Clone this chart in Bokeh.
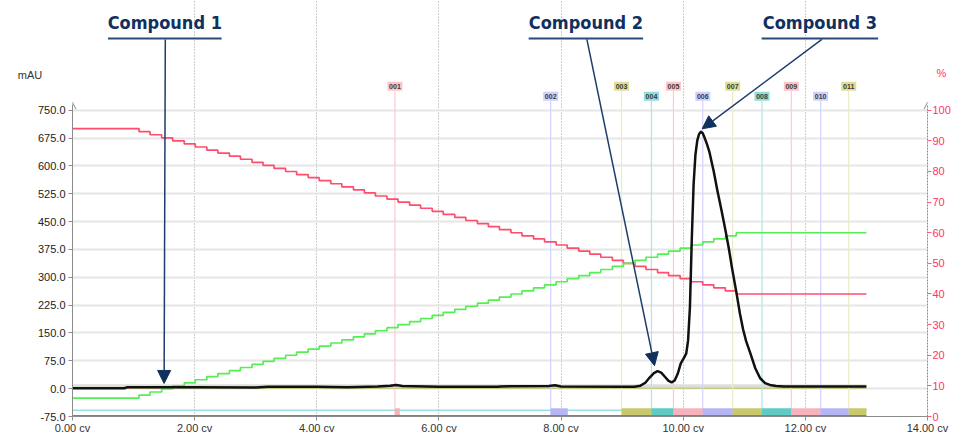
from bokeh.plotting import figure
from bokeh.models import (Range1d, LinearAxis, FixedTicker, Label, Arrow,
                          NormalHead, OpenHead)
from bokeh.core.properties import value
from bokeh.embed import file_html
from bokeh.resources import INLINE

# ---------------- data ----------------
x_ticks = [0, 2, 4, 6, 8, 10, 12, 14]
x_tick_labels = ["0.00 cv", "2.00 cv", "4.00 cv", "6.00 cv", "8.00 cv",
                 "10.00 cv", "12.00 cv", "14.00 cv"]
y_ticks = [-75, 0, 75, 150, 225, 300, 375, 450, 525, 600, 675, 750]
y_tick_labels = ["-75.0", "0.0", "75.0", "150.0", "225.0", "300.0", "375.0",
                 "450.0", "525.0", "600.0", "675.0", "750.0"]
pct_ticks = [0, 10, 20, 30, 40, 50, 60, 70, 80, 90, 100]
pct_tick_labels = ["0", "10", "20", "30", "40", "50", "60", "70", "80", "90", "100"]

# UV absorbance trace (mAU vs column volumes)
uv_cv = [0.00, 0.85, 0.90, 2.00, 3.00, 3.20, 4.00, 4.50, 5.00, 5.20, 5.30, 5.40,
         6.00, 6.97, 7.00, 7.80, 7.90, 8.00, 9.00, 9.20, 9.30, 9.38, 9.45, 9.52,
         9.58, 9.64, 9.70, 9.76, 9.81, 9.86, 9.91, 9.96, 10.01, 10.05, 10.08,
         10.11, 10.14, 10.17, 10.20, 10.23, 10.26, 10.29, 10.32, 10.35, 10.39,
         10.43, 10.50, 10.56, 10.63, 10.69, 10.75, 10.80, 10.87, 10.93, 10.98,
         11.03, 11.10, 11.18, 11.26, 11.34, 11.42, 11.52, 11.65, 12.00, 13.00]
uv_mau = [1, 1, 4, 4, 3, 5, 5, 4, 6, 8, 10, 7,
          5, 5, 6, 7, 9, 6, 5, 5, 8, 16, 30, 42,
          47, 43, 32, 21, 17, 22, 40, 68, 82, 95, 130,
          220, 400, 550, 630, 668, 686, 692, 688, 676, 658,
          637, 585, 533, 478, 428, 375, 324, 260, 201, 160,
          128, 95, 55, 28, 15, 10, 7, 6, 6, 6]

# Gradient program as executed (step changes), % solvent
grad_cv = [0.00, 1.09, 1.27, 1.46, 1.64, 1.83, 2.01, 2.20, 2.38, 2.57, 2.75,
           2.94, 3.12, 3.30, 3.49, 3.67, 3.86, 4.04, 4.23, 4.41, 4.60, 4.78,
           4.96, 5.15, 5.33, 5.52, 5.70, 5.89, 6.07, 6.26, 6.44, 6.63, 6.81,
           6.99, 7.18, 7.36, 7.55, 7.73, 7.92, 8.10, 8.29, 8.47, 8.65, 8.84,
           9.02, 9.21, 9.39, 9.58, 9.76, 9.95, 10.13, 10.32, 10.50, 10.69,
           10.87, 13.00]
solvent_b_pct = [6, 7, 8, 9, 10, 11, 12, 13, 14, 15, 16, 17, 18, 19, 20, 21, 22,
                 23, 24, 25, 26, 27, 28, 29, 30, 31, 32, 33, 34, 35, 36, 37, 38,
                 39, 40, 41, 42, 43, 44, 45, 46, 47, 48, 49, 50, 51, 52, 53, 54,
                 55, 56, 57, 58, 59, 60, 60]
solvent_a_pct = [94, 93, 92, 91, 90, 89, 88, 87, 86, 85, 84, 83, 82, 81, 80, 79,
                 78, 77, 76, 75, 74, 73, 72, 71, 70, 69, 68, 67, 66, 65, 64, 63,
                 62, 61, 60, 59, 58, 57, 56, 55, 54, 53, 52, 51, 50, 49, 48, 47,
                 46, 45, 44, 43, 42, 41, 40, 40]

# Fractions
frac_labels = ["001", "002", "003", "004", "005", "006", "007", "008", "009", "010", "011"]
frac_start = [5.28, 7.83, 8.99, 9.48, 9.84, 10.32, 10.81, 11.29, 11.77, 12.25, 12.71]
frac_end = [5.36, 8.11, 9.48, 9.84, 10.32, 10.81, 11.29, 11.77, 12.25, 12.71, 13.00]

# threshold band / auxiliary traces
band_mau = [0, 12]
run_end_cv = 13.0
aux_teal_mau = -58
aux_magenta_mau = -74

compounds = ["Compound 1", "Compound 2", "Compound 3"]
compound_cv = [1.50, 9.53, 10.31]
compound_mau = [14, 62, 700]

# ---------------- layout helpers ----------------
W, H = 953, 436
LEFT, RIGHT, BOTTOM = 64, 23, 19
FW = W - LEFT - RIGHT
FH = H - BOTTOM
Y750 = 110
UPP = 825.0 / (FH - Y750)
YTOP = 750 + Y750 * UPP
PX_PER_CV = FW / 14.0


def y_at(py):
    return YTOP - py * UPP


def x_at(px):
    return (px - LEFT) / PX_PER_CV


FONT = "Liberation Sans"

p = figure(width=W, height=H, output_backend="svg", toolbar_location=None,
           x_range=Range1d(0, 14), y_range=Range1d(-75, YTOP),
           min_border_left=LEFT, min_border_right=RIGHT,
           min_border_top=0, min_border_bottom=BOTTOM)
p.outline_line_color = None
p.background_fill_color = "white"
p.border_fill_color = "white"
p.extra_y_ranges = {"pct": Range1d(0, (YTOP + 75) / 8.25)}

# axes
xa = p.xaxis[0]
xa.ticker = FixedTicker(ticks=x_ticks)
xa.major_label_overrides = {t: l for t, l in zip(x_ticks, x_tick_labels)}
xa.axis_line_color = "#8c8c8c"
xa.major_tick_line_color = "#8c8c8c"
xa.minor_tick_line_color = None
xa.major_tick_out = 4
xa.major_tick_in = 0
xa.major_label_standoff = 1
xa.major_label_text_font = FONT
xa.major_label_text_font_size = "11px"
xa.major_label_text_color = "#333333"

ya = p.yaxis[0]
ya.ticker = FixedTicker(ticks=y_ticks)
ya.major_label_overrides = {t: l for t, l in zip(y_ticks, y_tick_labels)}
ya.bounds = (-75, y_at(104))
ya.axis_line_color = "#8c8c8c"
ya.major_tick_line_color = "#8c8c8c"
ya.minor_tick_line_color = None
ya.major_tick_out = 4
ya.major_tick_in = 0
ya.major_label_standoff = 3
ya.major_label_text_font = FONT
ya.major_label_text_font_size = "11px"
ya.major_label_text_color = "#222222"

ra = LinearAxis(y_range_name="pct", ticker=FixedTicker(ticks=pct_ticks))
ra.major_label_overrides = {t: l for t, l in zip(pct_ticks, pct_tick_labels)}
ra.bounds = (0, (y_at(104) + 75) / 8.25)
ra.axis_line_color = "#8c8c8c"
ra.axis_line_dash = "2 1"
ra.major_tick_line_color = "#ff5c7f"
ra.minor_tick_line_color = None
ra.major_tick_out = 4
ra.major_tick_in = 0
ra.major_label_standoff = 1
ra.major_label_text_font = FONT
ra.major_label_text_font_size = "11px"
ra.major_label_text_color = "#ff3366"
p.add_layout(ra, "right")

# grids
p.ygrid.ticker = FixedTicker(ticks=y_ticks)
p.ygrid.grid_line_color = "#e6e6e6"
p.ygrid.grid_line_width = 2
p.xgrid.ticker = FixedTicker(ticks=x_ticks[1:-1])
p.xgrid.grid_line_color = "#9a9a9a"
p.xgrid.grid_line_dash = "1 2"
p.xgrid.grid_line_width = 1
p.xgrid.bounds = (-75, 752)

# axis top arrows
for xx in (0, 14):
    p.add_layout(Arrow(end=OpenHead(size=7, line_color="#8c8c8c", line_width=1),
                       x_start=xx, y_start=750, x_end=xx, y_end=y_at(102),
                       line_alpha=0))

# threshold band
p.quad(left=[0], right=[run_end_cv], bottom=[band_mau[0]], top=[band_mau[1]],
       fill_color="#dcdcd6", fill_alpha=0.9, line_color=None)
p.line([0, run_end_cv], [band_mau[0] + 1, band_mau[0] + 1], line_color="#c9c98e",
       line_width=1.5)

# fraction colors
bar_cols = ["#f7b3bb", "#b6b6f7", "#c8c86c", "#5fcbc4"]
lab_cols = ["#ffc4c4", "#cfcfff", "#dede96", "#8fded8"]
line_cols = ["#ffc8cf", "#d2d2ff", "#ebebc4", "#aee6e6"]
n = len(frac_labels)
fb = [bar_cols[i % 4] for i in range(n)]
fl = [lab_cols[i % 4] for i in range(n)]
fln = [line_cols[i % 4] for i in range(n)]
lab_y = [y_at(86) if i % 2 == 0 else y_at(96) for i in range(n)]
lab_bottom = [y_at(90.5) if i % 2 == 0 else y_at(100.5) for i in range(n)]

p.segment(x0=frac_start, y0=lab_bottom, x1=frac_start, y1=[-75] * n,
          line_color=fln, line_width=1.2)

# aux teal line
p.line([0, run_end_cv], [aux_teal_mau, aux_teal_mau], line_color="#6ccfcf", line_width=1)

# fraction bars
p.quad(left=frac_start, right=frac_end, bottom=[-72] * n, top=[-53] * n,
       fill_color=fb, line_color=None)

# magenta line
p.line([0, run_end_cv], [aux_magenta_mau, aux_magenta_mau], line_color="#c94fc9",
       line_width=2.5)

# fraction labels
p.rect(x=frac_start, y=lab_y, width=15, height=9, width_units="screen",
       height_units="screen", fill_color=fl, line_color=None)
p.text(x=frac_start, y=lab_y, text=frac_labels, text_align="center",
       text_baseline="middle", text_font=value(FONT), text_font_size="7px",
       text_font_style="bold", text_color="#3a3a3a")

# gradient lines
p.step(grad_cv, solvent_a_pct, mode="after", y_range_name="pct",
       line_color="#ff4d6e", line_width=1.7)
p.step(grad_cv, solvent_b_pct, mode="after", y_range_name="pct",
       line_color="#55ee55", line_width=1.7)

# UV trace
p.line(uv_cv, uv_mau, line_color="#111111", line_width=2.5, line_join="round")

# axis titles (placed in a side panel so they are not clipped to the frame)
p.add_layout(Label(x=x_at(21), y=y_at(75), text="mAU", text_align="center",
                   text_baseline="middle", text_font=FONT, text_font_size="11px",
                   text_color="#333333"), "left")
p.add_layout(Label(x=x_at(944), y=y_at(73), text="%", text_align="center",
                   text_baseline="middle", text_font=FONT, text_font_size="11px",
                   text_color="#ff3366"), "left")

# compound annotations
NAVY = "#10305e"
text_cx = [x_at(157.5), x_at(584), x_at(821)]
ul_left = [x_at(100), x_at(526), x_at(762)]
ul_right = [x_at(215), x_at(642), x_at(880)]
line_sx = [x_at(158), x_at(585), x_at(823)]
p.text(x=text_cx, y=[y_at(22)] * 3, text=compounds, text_align="center",
       text_baseline="middle", text_font=value("DejaVu Sans Condensed"),
       text_font_size="18px", text_font_style="bold", text_color=NAVY)
p.segment(x0=ul_left, y0=[y_at(38)] * 3, x1=ul_right, y1=[y_at(38)] * 3,
          line_color="#2a4a78", line_width=2)
for sx, cx, cy in zip(line_sx, compound_cv, compound_mau):
    p.add_layout(Arrow(end=NormalHead(size=13, fill_color=NAVY, line_color=NAVY),
                       x_start=sx, y_start=y_at(39), x_end=cx, y_end=cy,
                       line_color="#1f3d6b", line_width=1.5))

open("out.html", "w").write(file_html(p, INLINE))
